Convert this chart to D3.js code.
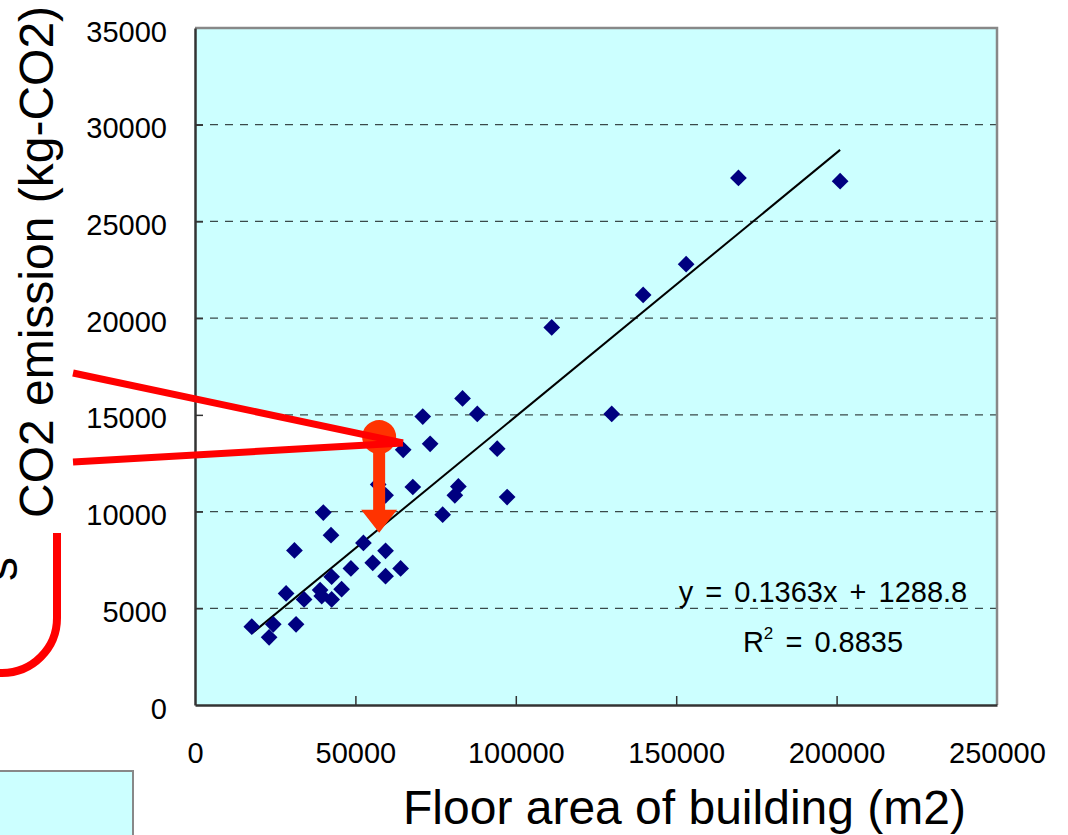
<!DOCTYPE html>
<html>
<head>
<meta charset="utf-8">
<script src="https://cdn.jsdelivr.net/npm/d3@7/dist/d3.min.js"></script>
<style>
	html, body { margin: 0; padding: 0; background: #fff; }
	svg { display: block; font-family: 'Liberation Sans', Arial, sans-serif; }
</style>
</head>
<body>
<svg id="chart" width="1068" height="835"></svg>
<script>
// floor area (m2) and CO2 emission (kg-CO2) per building
const floorArea = [17700, 24400, 23100, 31500, 28400, 34000, 31000, 40000, 42400, 39000,
	39500, 42600, 42600, 45700, 48600, 52500, 55400, 59400, 59400, 64100,
	57100, 59400, 64900, 71000, 73300, 83400, 88000, 67900, 82100, 81000,
	77200, 94200, 97300, 111200, 129900, 139700, 153100, 169400, 201100]
const co2Emission = [4050, 4170, 3500, 4170, 5770, 5460, 7990, 9950, 8780, 5940,
	5630, 6630, 5460, 5990, 7060, 8380, 7350, 7970, 6660, 7060,
	11400, 10840, 13190, 14910, 13500, 15850, 15050, 11270, 11300, 10840,
	9840, 13250, 10750, 19520, 15050, 21200, 22790, 27250, 27080]

const xTicks = [0, 50000, 100000, 150000, 200000, 250000]
const yTicks = [0, 5000, 10000, 15000, 20000, 25000, 30000, 35000]

const trend = {slope: 0.1363, intercept: 1288.8}
const trendLabels = ['y = 0.1363x + 1288.8', 'R', ' = 0.8835']

// highlighted building: circle and arrow down to the trend line
const highlight = {x: 57400, from: 13850, to: 8900}

const width = 1068
const height = 835
const plot = {left: 195, right: 997, top: 28, bottom: 705}

const svg = d3.select('#chart')

const x = d3.scaleLinear().domain([0, 250000]).range([plot.left, plot.right])
const y = d3.scaleLinear().domain([0, 35000]).range([plot.bottom, plot.top])

// plot background
svg.append('rect')
	.attr('x', plot.left).attr('y', plot.top)
	.attr('width', plot.right - plot.left).attr('height', plot.bottom - plot.top)
	.attr('fill', '#ccffff')

// dashed gridlines
svg.append('g').selectAll('line')
	.data(yTicks.filter(t => t > 0 && t < 35000))
	.join('line')
	.attr('x1', plot.left).attr('x2', plot.right)
	.attr('y1', d => y(d)).attr('y2', d => y(d))
	.attr('stroke', '#3a4a4a').attr('stroke-width', 1.3)
	.attr('stroke-dasharray', '8,7')

// white callout wedge coming in from the left
const tip = [x(64800), y(13550)]
const wedgeLeft = [[73, 373], [73, 462]]
svg.append('path')
	.attr('d', d3.line()([wedgeLeft[0], tip, wedgeLeft[1]]) + 'Z')
	.attr('fill', '#fff')

// plot frame: light top/right, dark left/bottom
svg.append('path')
	.attr('d', `M${plot.left},${plot.top}H${plot.right}V${plot.bottom}`)
	.attr('fill', 'none').attr('stroke', '#888').attr('stroke-width', 2.5)

// axes
const xAxis = d3.axisBottom(x).tickValues(xTicks).tickSizeInner(-9).tickSizeOuter(0).tickPadding(37).tickFormat(d3.format('d'))
const yAxis = d3.axisLeft(y).tickValues(yTicks).tickSizeInner(-8).tickSizeOuter(0).tickPadding(28).tickFormat(d3.format('d'))

const gx = svg.append('g').attr('transform', `translate(0,${plot.bottom})`).call(xAxis)
const gy = svg.append('g').attr('transform', `translate(${plot.left},0)`).call(yAxis)

for (const g of [gx, gy]) {
	g.select('.domain').attr('stroke', '#333').attr('stroke-width', 2.5)
	g.selectAll('.tick line').attr('stroke', '#333').attr('stroke-width', 1.5)
	g.selectAll('.tick text').attr('font-size', 29).attr('fill', '#000')
		.attr('font-family', "'Liberation Sans', Arial, sans-serif")
}
gy.selectAll('.tick text').attr('dy', '0.45em')
gx.selectAll('.tick line').filter(d => d === 0 || d === 250000).remove()
gy.selectAll('.tick line').filter(d => d === 0 || d === 35000).remove()

// trend line over the data range
const xExtent = d3.extent(floorArea)
svg.append('line')
	.attr('x1', x(xExtent[0])).attr('y1', y(trend.slope * xExtent[0] + trend.intercept))
	.attr('x2', x(xExtent[1])).attr('y2', y(trend.slope * xExtent[1] + trend.intercept))
	.attr('stroke', '#000').attr('stroke-width', 2)

// data points as diamonds
const diamond = d3.symbol().type(d3.symbolSquare).size(140)
svg.append('g').selectAll('path')
	.data(d3.zip(floorArea, co2Emission))
	.join('path')
	.attr('d', diamond)
	.attr('transform', d => `translate(${x(d[0])},${y(d[1])}) rotate(45)`)
	.attr('fill', '#000080')

// equation and R2
const eq = svg.append('g').attr('font-size', 29).attr('fill', '#000').attr('word-spacing', 4)
eq.append('text')
	.attr('x', 823).attr('y', 602)
	.attr('text-anchor', 'middle')
	.text(trendLabels[0])
const r2 = eq.append('text')
	.attr('x', 823).attr('y', 652)
	.attr('text-anchor', 'middle')
r2.append('tspan').text(trendLabels[1])
r2.append('tspan').attr('dy', -13).attr('font-size', 17).text('2')
r2.append('tspan').attr('dy', 13).text(trendLabels[2])

// highlight: orange circle with arrow pointing to the trend line
const orange = '#ff3300'
const hx = x(highlight.x)
svg.append('circle')
	.attr('cx', hx).attr('cy', y(highlight.from)).attr('r', 17)
	.attr('fill', orange)
const shaftEnd = y(highlight.to) - 23
svg.append('path')
	.attr('d', d3.line()([
		[hx - 6, y(highlight.from)], [hx + 6, y(highlight.from)],
		[hx + 6, shaftEnd], [hx + 18, shaftEnd],
		[hx, y(highlight.to)],
		[hx - 18, shaftEnd], [hx - 6, shaftEnd]
	]) + 'Z')
	.attr('fill', orange)

// red callout lines
svg.append('g').selectAll('line')
	.data(wedgeLeft)
	.join('line')
	.attr('x1', d => d[0]).attr('y1', d => d[1])
	.attr('x2', tip[0]).attr('y2', tip[1])
	.attr('stroke', '#ff0000').attr('stroke-width', 7)

// red bracket at the left edge
svg.append('path')
	.attr('d', 'M57,533V618A55,55 0 0 1 2,673H-10')
	.attr('fill', 'none').attr('stroke', '#ff0000').attr('stroke-width', 8)

// cut-off text at the left edge (as in the source slide)
svg.append('text')
	.attr('transform', 'translate(17,581) rotate(-90)')
	.attr('font-size', 48)
	.text('s')

// light box in the lower-left corner
svg.append('rect')
	.attr('x', -5).attr('y', 771).attr('width', 138).attr('height', 80)
	.attr('fill', '#ccffff').attr('stroke', '#888').attr('stroke-width', 2)

// axis titles
svg.append('text')
	.attr('x', 403).attr('y', 824)
	.attr('font-size', 48)
	.text('Floor area of building (m2)')
svg.append('text')
	.attr('transform', 'translate(53,518) rotate(-90)')
	.attr('font-size', 48)
	.text('CO2 emission (kg-CO2)')
</script>
</body>
</html>
